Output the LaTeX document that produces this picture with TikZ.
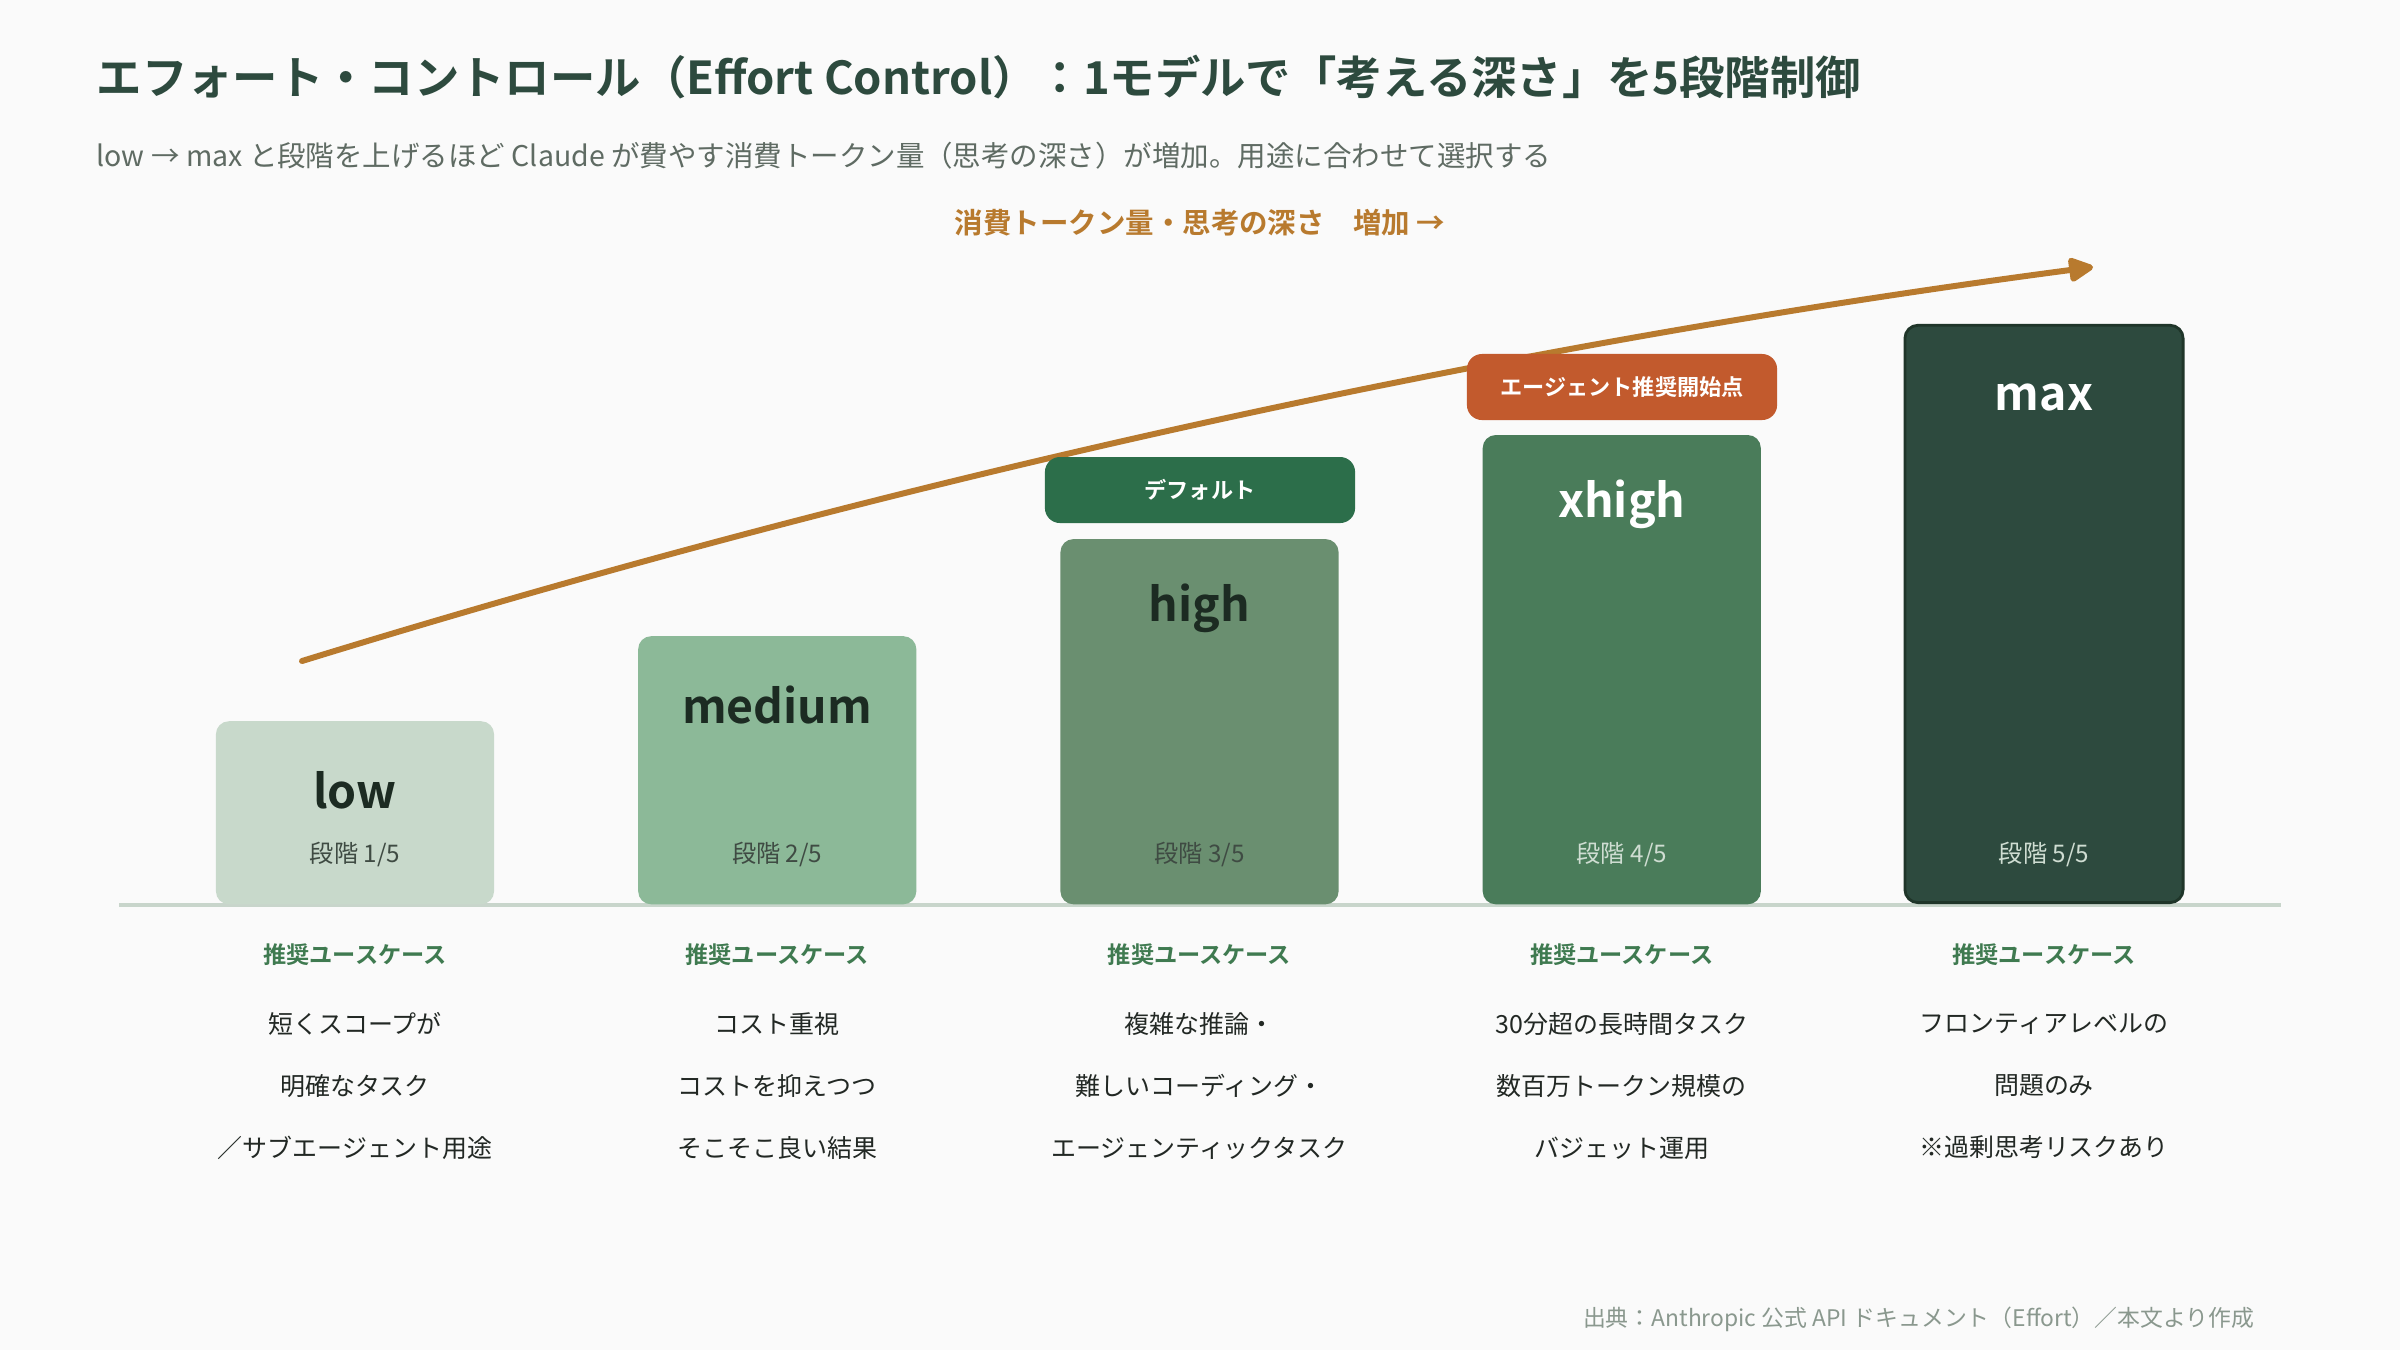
\documentclass[tikz,border=0pt]{standalone}
\usepackage{fontspec}
\setmainfont{Noto Sans CJK JP}[BoldFont={Noto Sans CJK JP Bold}]
\usetikzlibrary{arrows.meta}
\begin{document}
\begin{tikzpicture}[x=0.01cm,y=-0.01cm]
\newcommand{\colstep}{422.25}
\newcommand{\colzero}{355}
\definecolor{bgcolor}{HTML}{FAFAFA}
\definecolor{titlecolor}{HTML}{2D4A3E}
\definecolor{subcolor}{HTML}{5F6B63}
\definecolor{trendcolor}{HTML}{B87A2E}
\definecolor{lowcolor}{HTML}{C8D9CB}
\definecolor{mediumcolor}{HTML}{8CB998}
\definecolor{highcolor}{HTML}{6A8F70}
\definecolor{xhighcolor}{HTML}{4A7C5A}
\definecolor{maxcolor}{HTML}{2D4A3E}
\definecolor{maxborder}{HTML}{1F3529}
\definecolor{defaultcolor}{HTML}{2C6E4A}
\definecolor{agentcolor}{HTML}{C25A2D}
\definecolor{headcolor}{HTML}{3F7A50}
\definecolor{inkcolor}{HTML}{222824}
\definecolor{namedark}{HTML}{1C2B22}
\definecolor{stagedark}{HTML}{3F4B43}
\definecolor{stagelight}{HTML}{CFDDD2}
\definecolor{footcolor}{HTML}{8A988E}
\definecolor{basecolor}{HTML}{C8D5CB}
\tikzstyle{stagebox}=[rounded corners=0.13cm,minimum width=2.78cm,anchor=south,inner sep=0pt]
\tikzstyle{levelname}=[font=\bfseries\fontsize{13.2}{15}\selectfont]
\tikzstyle{stagetext}=[font=\fontsize{6.9}{8}\selectfont]
\tikzstyle{badge}=[rounded corners=0.15cm,minimum width=3.1cm,minimum height=0.66cm,inner sep=0pt,text=white,font=\bfseries\fontsize{6.3}{8}\selectfont]
\tikzstyle{usehead}=[text=headcolor,font=\bfseries\fontsize{6.6}{8}\selectfont]
\tikzstyle{usetext}=[text=inkcolor,align=center,font=\fontsize{7.1}{17.6}\selectfont]
\tikzstyle{trend}=[trendcolor,line width=1.7pt,line cap=round,-{Triangle[length=0.28cm,width=0.26cm,round]}]
% background and bounding box
\fill[bgcolor] (0,0) rectangle (2400,1350);
\useasboundingbox (0,0) rectangle (2400,1350);
% heading
\node[anchor=west,inner sep=0pt,text=titlecolor,font=\bfseries\fontsize{12.9}{14}\selectfont] (title) at (96,77) {エフォート・コントロール（Effort Control）：1モデルで「考える深さ」を5段階制御};
\node[anchor=west,inner sep=0pt,text=subcolor,font=\fontsize{8.1}{9}\selectfont] (subtitle) at (96,156) {low → max と段階を上げるほど Claude が費やす消費トークン量（思考の深さ）が増加。用途に合わせて選択する};
\node[text=trendcolor,font=\bfseries\fontsize{8.1}{9}\selectfont] (trendlabel) at (1200,223) {消費トークン量・思考の深さ\quad 増加 →};
% trend arrow
\coordinate (trendstart) at (302,661);
\coordinate (trendend) at (2093,267);
\draw[trend] (trendstart) .. controls (899,477) and (1495,346) .. (trendend);
% base line
\coordinate (baseleft) at (119,905);
\coordinate (baseright) at (2281,905);
\draw[basecolor,line width=1.2pt] (baseleft) -- (baseright);
% stage boxes
\node[stagebox,fill=lowcolor,minimum height=1.83cm] (low) at (\colzero+\colstep*0,905) {};
\node[stagebox,fill=mediumcolor,minimum height=2.68cm] (medium) at (\colzero+\colstep*1,905) {};
\node[stagebox,fill=highcolor,minimum height=3.65cm] (high) at (\colzero+\colstep*2,905) {};
\node[stagebox,fill=xhighcolor,minimum height=4.69cm] (xhigh) at (\colzero+\colstep*3,905) {};
\node[stagebox,fill=maxcolor,draw=maxborder,line width=0.8pt,minimum height=5.77cm] (max) at (\colzero+\colstep*4,904) {};
\node[levelname,text=namedark] (lowname) at (\colzero+\colstep*0,790) {low};
\node[levelname,text=namedark] (mediumname) at (\colzero+\colstep*1,705) {medium};
\node[levelname,text=namedark] (highname) at (\colzero+\colstep*2,608) {high};
\node[levelname,text=white] (xhighname) at (\colzero+\colstep*3,504) {xhigh};
\node[levelname,text=white] (maxname) at (\colzero+\colstep*4,397) {max};
\node[stagetext,text=stagedark] (lowstage) at (\colzero+\colstep*0,854) {段階 1/5};
\node[stagetext,text=stagedark] (mediumstage) at (\colzero+\colstep*1,854) {段階 2/5};
\node[stagetext,text=stagedark] (highstage) at (\colzero+\colstep*2,854) {段階 3/5};
\node[stagetext,text=stagelight] (xhighstage) at (\colzero+\colstep*3,854) {段階 4/5};
\node[stagetext,text=stagelight] (maxstage) at (\colzero+\colstep*4,854) {段階 5/5};
% badges
\node[badge,fill=defaultcolor] (defaultbadge) at (1200,490) {デフォルト};
\node[badge,fill=agentcolor] (agentbadge) at (1622,387) {エージェント推奨開始点};
% use cases
\node[usehead] (lowhead) at (\colzero+\colstep*0,955) {推奨ユースケース};
\node[usehead] (mediumhead) at (\colzero+\colstep*1,955) {推奨ユースケース};
\node[usehead] (highhead) at (\colzero+\colstep*2,955) {推奨ユースケース};
\node[usehead] (xhighhead) at (\colzero+\colstep*3,955) {推奨ユースケース};
\node[usehead] (maxhead) at (\colzero+\colstep*4,955) {推奨ユースケース};
\node[usetext] (lowuse) at (\colzero+\colstep*0,1086) {短くスコープが\\明確なタスク\\／サブエージェント用途};
\node[usetext] (mediumuse) at (\colzero+\colstep*1,1086) {コスト重視\\コストを抑えつつ\\そこそこ良い結果};
\node[usetext] (highuse) at (\colzero+\colstep*2,1086) {複雑な推論・\\難しいコーディング・\\エージェンティックタスク};
\node[usetext] (xhighuse) at (\colzero+\colstep*3,1086) {30分超の長時間タスク\\数百万トークン規模の\\バジェット運用};
\node[usetext] (maxuse) at (\colzero+\colstep*4,1086) {フロンティアレベルの\\問題のみ\\※過剰思考リスクあり};
% source
\node[anchor=east,inner sep=0pt,text=footcolor,font=\fontsize{6.5}{8}\selectfont] (source) at (2255,1319) {出典：Anthropic 公式 API ドキュメント（Effort）／本文より作成};
\end{tikzpicture}
\end{document}
